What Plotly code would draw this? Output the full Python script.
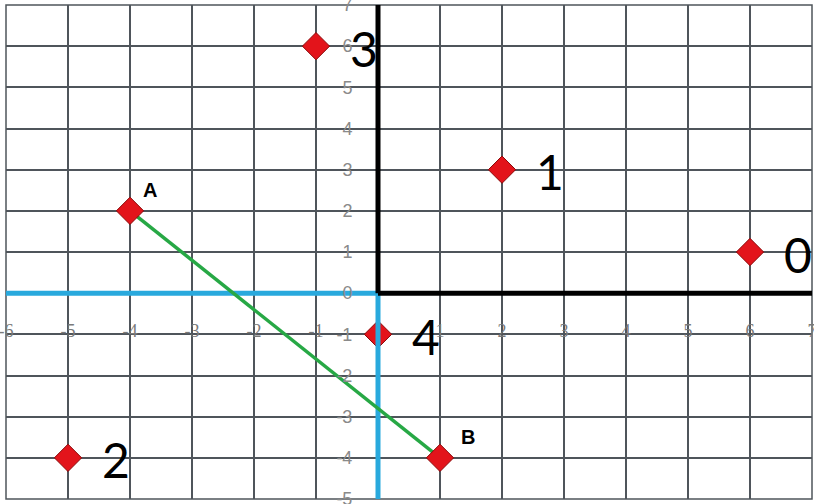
import plotly.graph_objects as go

# ---- data ----
x_range = [-6, 7]
y_range = [-5, 7]
x_ticks = [-6, -5, -4, -3, -2, -1, 1, 2, 3, 4, 5, 6, 7]
y_ticks = [7, 6, 5, 4, 3, 2, 1, 0, -1, -2, -3, -4, -5]

pt_x = [6, 2, -5, -1, 0]
pt_y = [1, 3, -4, 6, -1]
pt_labels = ["0", "1", "2", "3", "4"]

seg_x = [-4, 1]
seg_y = [2, -4]
seg_labels = ["A", "B"]

# ---- styles ----
RED = "#e3141b"
RED_EDGE = "#8a0a0a"
BLUE = "#29a9dd"
GREEN = "#27a845"
GRID = "#4f555b"

fig = go.Figure()

marker = dict(symbol="diamond", size=21, color=RED, line=dict(color=RED_EDGE, width=1))

# numbered points (below the axis lines)
fig.add_trace(go.Scatter(x=pt_x, y=pt_y, mode="markers", marker=marker,
                         hoverinfo="skip", showlegend=False))

# axis lines: negative halves blue, positive halves black
fig.add_trace(go.Scatter(x=[x_range[0], 0], y=[0, 0], mode="lines",
                         line=dict(color=BLUE, width=5), hoverinfo="skip", showlegend=False))
fig.add_trace(go.Scatter(x=[0, 0], y=[0, y_range[0]], mode="lines",
                         line=dict(color=BLUE, width=5), hoverinfo="skip", showlegend=False))
fig.add_trace(go.Scatter(x=[0, x_range[1]], y=[0, 0], mode="lines",
                         line=dict(color="black", width=5), hoverinfo="skip", showlegend=False))
fig.add_trace(go.Scatter(x=[0, 0], y=[0, y_range[1]], mode="lines",
                         line=dict(color="black", width=5), hoverinfo="skip", showlegend=False))

# segment AB
fig.add_trace(go.Scatter(x=seg_x, y=seg_y, mode="lines",
                         line=dict(color=GREEN, width=3.5), hoverinfo="skip", showlegend=False))
fig.add_trace(go.Scatter(x=seg_x, y=seg_y, mode="markers", marker=marker,
                         hoverinfo="skip", showlegend=False))

annotations = []
for x, y, t in zip(pt_x, pt_y, pt_labels):
    annotations.append(dict(x=x, y=y, text=t, showarrow=False, xanchor="left", yanchor="middle",
                            xshift=32, yshift=-2,
                            font=dict(family="Lato", size=48, color="black")))
seg_shift = {"A": 20, "B": 28}
for x, y, t in zip(seg_x, seg_y, seg_labels):
    annotations.append(dict(x=x, y=y, text="<b>" + t + "</b>", showarrow=False,
                            xanchor="center", yanchor="middle",
                            xshift=seg_shift[t], yshift=21,
                            font=dict(family="Liberation Sans", size=20, color="black")))

x_zero_frac = (0 - y_range[0]) / (y_range[1] - y_range[0])
y_zero_frac = (0 - x_range[0]) / (x_range[1] - x_range[0])

fig.update_layout(
    width=814, height=504,
    margin=dict(l=6, r=2, t=5, b=5, autoexpand=False),
    paper_bgcolor="white", plot_bgcolor="white",
    annotations=annotations,
    shapes=[dict(type="rect", xref="paper", yref="paper", x0=0, x1=1, y0=0, y1=1,
                 line=dict(color=GRID, width=1.5), layer="below")],
    xaxis=dict(range=x_range, tickmode="array", tickvals=x_ticks,
               ticktext=[str(v) for v in x_ticks],
               showgrid=True, gridcolor=GRID, gridwidth=1.5,
               zeroline=False, showline=False, automargin=False,
               anchor="free", position=x_zero_frac,
               ticks="outside", ticklen=21, tickcolor="rgba(0,0,0,0)",
               ticklabeloverflow="allow",
               tickfont=dict(family="Liberation Serif", size=18, color="#7a7a7a"),
               fixedrange=True),
    yaxis=dict(range=y_range, tickmode="array", tickvals=y_ticks,
               ticktext=[str(v) for v in y_ticks],
               showgrid=True, gridcolor=GRID, gridwidth=1.5,
               zeroline=False, showline=False, automargin=False,
               anchor="free", position=y_zero_frac,
               ticks="outside", ticklen=22, tickcolor="rgba(0,0,0,0)",
               ticklabeloverflow="allow",
               tickfont=dict(family="Liberation Sans", size=18, color="#8a8a8a"),
               fixedrange=True),
)

fig.write_html("out.html", config={"displayModeBar": False},
               post_script="document.body.style.margin='0';document.body.style.overflow='hidden';")
